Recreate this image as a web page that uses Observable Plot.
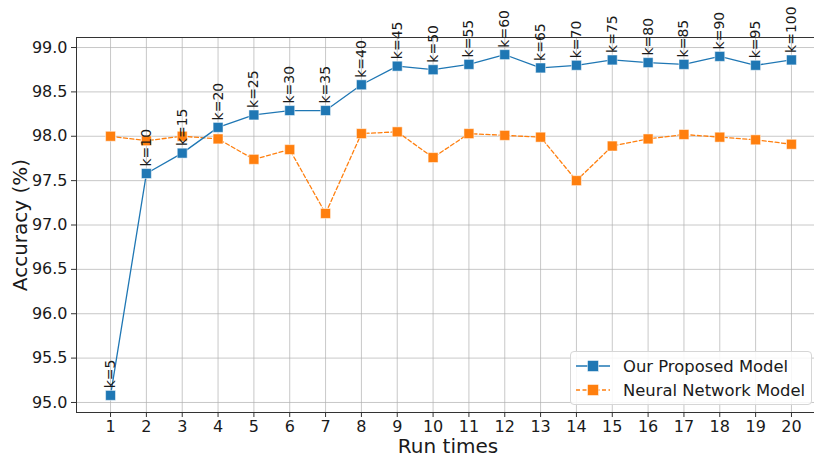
<!DOCTYPE html>
<html>
<head>
<meta charset="utf-8">
<script src="https://cdn.jsdelivr.net/npm/d3@7"></script>
<script src="https://cdn.jsdelivr.net/npm/@observablehq/plot@0.6"></script>
<style>
  html, body { margin: 0; padding: 0; background: #fff; }
  #chart { position: relative; width: 814px; height: 461px; font-family: "DejaVu Sans", sans-serif; }
  #legend { position: absolute; left: 570px; top: 351px; width: 242px; height: 54px; background: rgba(255,255,255,0.85);
    border: 1px solid #d6d6d6; border-radius: 4px; box-sizing: border-box; font-size: 16.4px; color: #1a1a1a; }
  .row { position: absolute; left: 4px; height: 22px; display: flex; align-items: center; }
  .row span { margin-left: 12px; }
  g.klabels text { font-size: 14px; }
</style>
</head>
<body>
<div id="chart"></div>
<script>
const runs = [1,2,3,4,5,6,7,8,9,10,11,12,13,14,15,16,17,18,19,20];
const kLabels = ["k=5","k=10","k=15","k=20","k=25","k=30","k=35","k=40","k=45","k=50","k=55","k=60","k=65","k=70","k=75","k=80","k=85","k=90","k=95","k=100"];
const proposed = [95.08,97.58,97.81,98.10,98.24,98.29,98.29,98.58,98.79,98.75,98.81,98.92,98.77,98.80,98.86,98.83,98.81,98.90,98.80,98.86];
const neural = [98.00,97.95,98.00,97.97,97.74,97.85,97.13,98.03,98.05,97.76,98.03,98.01,97.99,97.50,97.89,97.97,98.02,97.99,97.96,97.91];
const yTicks = [95.0,95.5,96.0,96.5,97.0,97.5,98.0,98.5,99.0];
const seriesNames = ["Our Proposed Model", "Neural Network Model"];
const colors = ["#1f77b4", "#ff7f0e"];

const dataP = runs.map((r,i) => ({run: r, acc: proposed[i], label: kLabels[i]}));
const dataN = runs.map((r,i) => ({run: r, acc: neural[i]}));

const plot = Plot.plot({
  width: 814,
  height: 461,
  marginLeft: 76,
  marginRight: -11,
  marginTop: 37,
  marginBottom: 49,
  style: {fontFamily: "DejaVu Sans, sans-serif", fontSize: "16px", color: "#1a1a1a", background: "transparent", overflow: "visible"},
  x: {domain: [0.05, 20.95], ticks: runs, tickFormat: d => String(d), tickSize: 5, tickPadding: 3, label: null},
  y: {domain: [94.887, 99.113], ticks: yTicks, tickFormat: d => d.toFixed(1), tickSize: 5, tickPadding: 4, label: null},
  marks: [
    Plot.gridX(runs, {stroke: "#b0b0b0", strokeOpacity: 0.7, strokeWidth: 1}),
    Plot.gridY(yTicks, {stroke: "#b0b0b0", strokeOpacity: 0.7, strokeWidth: 1}),
    Plot.frame({stroke: "#333", strokeWidth: 1}),
    Plot.axisX({ticks: runs, tickFormat: d => String(d), tickSize: 5, tickPadding: 3, fontSize: 16, stroke: "#333", label: null}),
    Plot.axisY({ticks: yTicks, tickFormat: d => d.toFixed(1), tickSize: 5, tickPadding: 4, fontSize: 16, stroke: "#333", label: null}),
    Plot.line(dataN, {x: "run", y: "acc", stroke: colors[1], strokeWidth: 1.3, strokeDasharray: "4,2.5"}),
    Plot.dot(dataN, {x: "run", y: "acc", symbol: "square", fill: colors[1], stroke: "white", strokeWidth: 0.5, r: 5.6}),
    Plot.line(dataP, {x: "run", y: "acc", stroke: colors[0], strokeWidth: 1.3}),
    Plot.dot(dataP, {x: "run", y: "acc", symbol: "square", fill: colors[0], stroke: "white", strokeWidth: 0.5, r: 5.6}),
    Plot.text(dataP, {x: "run", y: "acc", text: "label", rotate: -90, textAnchor: "start", lineAnchor: "middle", dy: -7, fill: "#1a1a1a", className: "klabels"})
  ]
});
plot.style.position = "absolute";
plot.style.left = "0px";
plot.style.top = "0px";
const chart = document.getElementById("chart");
chart.appendChild(plot);

// Force the k-label font size
plot.querySelectorAll('g[aria-label="text"]').forEach(g => {
  g.setAttribute("font-size", "14");
  g.style.fontSize = "14px";
  g.querySelectorAll("text").forEach(t => { t.style.fontSize = "14px"; });
});

// Axis titles
const svgNS = "http://www.w3.org/2000/svg";
function addText(txt, x, y, rot) {
  const t = document.createElementNS(svgNS, "text");
  t.textContent = txt;
  t.setAttribute("x", x); t.setAttribute("y", y);
  t.setAttribute("text-anchor", "middle");
  t.setAttribute("dominant-baseline", "central");
  t.setAttribute("font-size", "20");
  t.setAttribute("fill", "#1a1a1a");
  if (rot) t.setAttribute("transform", `rotate(${rot},${x},${y})`);
  plot.appendChild(t);
}
addText("Run times", 448, 446, 0);
addText("Accuracy (%)", 20, 225, -90);

// Legend
const legend = document.createElement("div");
legend.id = "legend";
seriesNames.forEach((name, i) => {
  const row = document.createElement("div");
  row.className = "row";
  row.style.top = (3 + i * 24) + "px";
  const dash = i === 1 ? 'stroke-dasharray="4,2.5"' : "";
  row.innerHTML = `<svg width="36" height="14"><line x1="1" x2="35" y1="7" y2="7" stroke="${colors[i]}" stroke-width="1.3" ${dash}/><rect x="12.5" y="1.5" width="11" height="11" fill="${colors[i]}" stroke="white" stroke-width="0.5"/></svg><span>${name}</span>`;
  legend.appendChild(row);
});
chart.appendChild(legend);
</script>
</body>
</html>
